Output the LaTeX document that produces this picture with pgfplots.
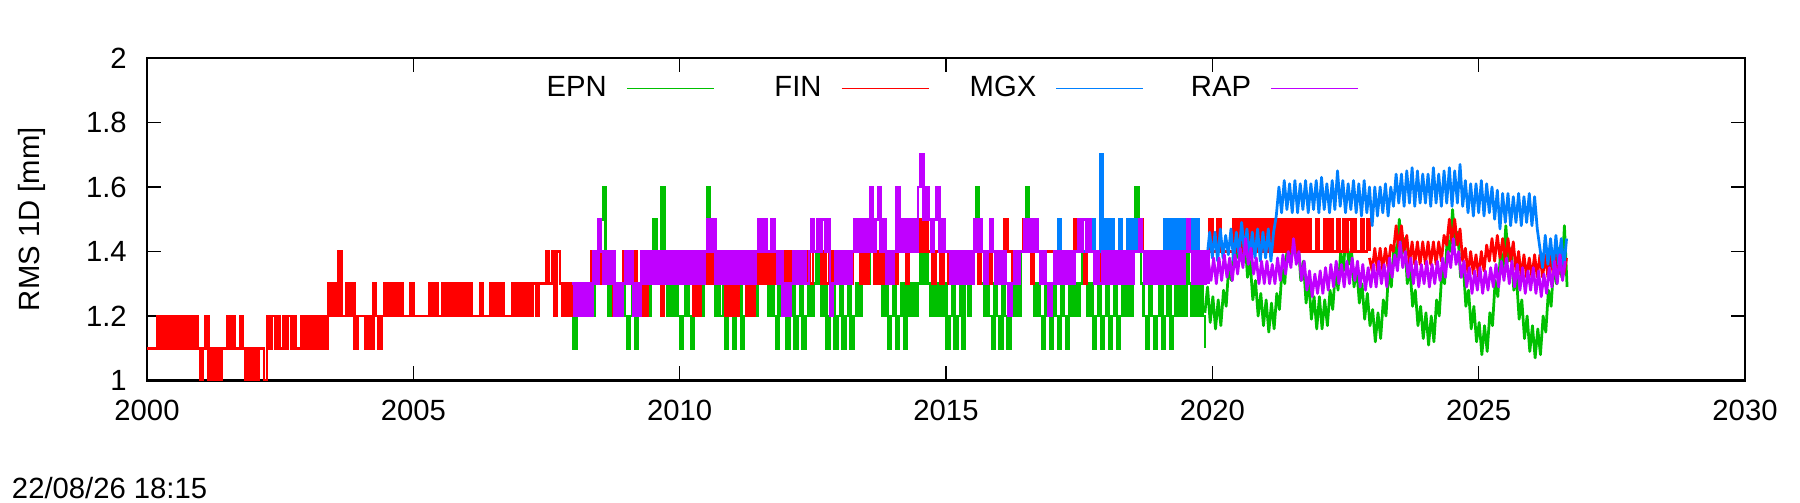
\documentclass[border=0pt]{standalone}
\usepackage{fontspec}
\setmainfont{Liberation Sans}
\usepackage{pgfplots}
\usepackage{pgfplotstable}
\pgfplotsset{compat=1.18}
\definecolor{cEPN}{RGB}{0,192,0}
\definecolor{cFIN}{RGB}{255,0,0}
\definecolor{cMGX}{RGB}{0,128,255}
\definecolor{cRAP}{RGB}{192,0,255}

% FIN, quantised part, 2000.00 + 0.05 i
\pgfplotstableread[row sep=\\]{
y\\
1.1\\1.1\\1.1\\1.1\\1.2\\1.1\\1.2\\1.1\\1.2\\1.1\\1.2\\1.1\\1.2\\1.1\\1.2\\1.1\\1.2\\1.1\\1.2\\1.1\\
1.0\\1.1\\1.2\\1.0\\1.1\\1.0\\1.1\\1.0\\1.1\\1.1\\1.2\\1.1\\1.2\\1.1\\1.1\\1.2\\1.1\\1.0\\1.1\\1.0\\
1.1\\1.0\\1.1\\1.1\\1.0\\1.2\\1.1\\1.2\\1.1\\1.2\\1.1\\1.2\\1.1\\1.2\\1.1\\1.2\\1.1\\1.1\\1.2\\1.1\\
1.2\\1.1\\1.2\\1.1\\1.2\\1.1\\1.2\\1.1\\1.3\\1.2\\1.3\\1.2\\1.4\\1.2\\1.2\\1.3\\1.2\\1.3\\1.1\\1.2\\
1.2\\1.2\\1.1\\1.2\\1.1\\1.3\\1.2\\1.1\\1.2\\1.3\\1.2\\1.3\\1.2\\1.3\\1.2\\1.3\\1.2\\1.2\\1.2\\1.3\\
1.2\\1.2\\1.2\\1.2\\1.2\\1.2\\1.3\\1.2\\1.3\\1.2\\1.2\\1.3\\1.2\\1.3\\1.2\\1.3\\1.2\\1.3\\1.2\\1.3\\
1.2\\1.3\\1.2\\1.2\\1.2\\1.3\\1.2\\1.2\\1.2\\1.3\\1.2\\1.3\\1.2\\1.3\\1.2\\1.2\\1.2\\1.3\\1.2\\1.3\\
1.2\\1.3\\1.2\\1.3\\1.2\\1.3\\1.2\\1.3\\1.3\\1.3\\1.4\\1.3\\1.4\\1.2\\1.4\\1.3\\1.2\\1.3\\1.2\\1.3\\
1.2\\1.3\\1.2\\1.3\\1.2\\1.3\\1.2\\1.4\\1.3\\1.4\\1.3\\1.4\\1.3\\1.4\\1.3\\1.2\\1.3\\1.2\\1.3\\1.4\\
1.3\\1.4\\1.3\\1.4\\1.3\\1.2\\1.3\\1.2\\1.4\\1.3\\1.4\\1.3\\1.4\\1.2\\1.3\\1.4\\1.3\\1.4\\1.3\\1.4\\
1.3\\1.4\\1.3\\1.4\\1.3\\1.2\\1.3\\1.2\\1.3\\1.4\\1.3\\1.4\\1.3\\1.4\\1.3\\1.4\\1.3\\1.2\\1.3\\1.2\\
1.3\\1.2\\1.3\\1.4\\1.3\\1.2\\1.3\\1.2\\1.4\\1.3\\1.4\\1.3\\1.4\\1.3\\1.4\\1.3\\1.4\\1.3\\1.4\\1.3\\
1.4\\1.3\\1.4\\1.3\\1.4\\1.3\\1.4\\1.3\\1.4\\1.3\\1.4\\1.4\\1.4\\1.3\\1.4\\1.3\\1.4\\1.3\\1.4\\1.4\\
1.3\\1.4\\1.3\\1.4\\1.3\\1.4\\1.4\\1.4\\1.3\\1.4\\1.3\\1.4\\1.4\\1.3\\1.4\\1.3\\1.4\\1.3\\1.4\\1.3\\
1.4\\1.3\\1.4\\1.4\\1.4\\1.3\\1.4\\1.4\\1.5\\1.4\\1.5\\1.4\\1.5\\1.4\\1.4\\1.3\\1.4\\1.4\\1.3\\1.4\\
1.4\\1.3\\1.4\\1.4\\1.3\\1.4\\1.4\\1.4\\1.3\\1.4\\1.4\\1.4\\1.3\\1.4\\1.4\\1.4\\1.3\\1.4\\1.4\\1.4\\
1.4\\1.4\\1.5\\1.4\\1.4\\1.3\\1.4\\1.4\\1.4\\1.5\\1.4\\1.4\\1.3\\1.4\\1.4\\1.4\\1.3\\1.4\\1.4\\1.4\\
1.4\\1.4\\1.3\\1.4\\1.4\\1.4\\1.4\\1.3\\1.5\\1.4\\1.4\\1.4\\1.3\\1.4\\1.4\\1.4\\1.4\\1.3\\1.4\\1.4\\
1.4\\1.4\\1.3\\1.4\\1.4\\1.4\\1.3\\1.4\\1.4\\1.4\\1.4\\1.4\\1.5\\1.5\\1.4\\1.4\\1.3\\1.4\\1.4\\1.4\\
1.4\\1.3\\1.4\\1.4\\1.4\\1.4\\1.3\\1.4\\1.4\\1.4\\1.4\\1.5\\1.4\\1.5\\1.4\\1.4\\1.4\\1.4\\1.4\\1.5\\
1.4\\1.4\\1.5\\1.4\\1.4\\1.4\\1.4\\1.4\\1.5\\1.4\\1.5\\1.4\\1.5\\1.4\\1.5\\1.4\\1.5\\1.4\\1.5\\1.4\\
1.5\\1.4\\1.5\\1.4\\1.5\\1.4\\1.5\\1.4\\1.5\\1.4\\1.5\\1.4\\1.5\\1.4\\1.5\\1.4\\1.5\\1.4\\1.4\\1.5\\
1.4\\1.4\\1.5\\1.4\\1.5\\1.4\\1.4\\1.5\\1.4\\1.5\\1.4\\1.5\\1.4\\1.5\\1.4\\1.4\\1.5\\1.4\\1.5\\1.4\\
}\finq
% FIN, continuous part, 2022.95 + 0.05 i
\pgfplotstableread[row sep=\\]{
y\\
1.38\\
1.34\\1.41\\1.34\\1.41\\1.34\\1.41\\1.35\\1.42\\1.40\\1.48\\1.41\\1.48\\1.40\\1.45\\1.36\\1.43\\1.36\\1.43\\1.36\\1.43\\
1.36\\1.43\\1.36\\1.43\\1.36\\1.43\\1.37\\1.45\\1.42\\1.50\\1.43\\1.50\\1.42\\1.47\\1.37\\1.41\\1.33\\1.40\\1.33\\1.39\\
1.32\\1.40\\1.34\\1.42\\1.37\\1.44\\1.37\\1.45\\1.38\\1.44\\1.37\\1.44\\1.37\\1.43\\1.34\\1.40\\1.32\\1.39\\1.32\\1.38\\
1.32\\1.39\\1.32\\1.39\\1.32\\1.39\\1.32\\1.39\\1.33\\1.40\\1.33\\1.39\\1.33\\1.38\\
}\finc
% MGX, quantised part, 2017.00 + 0.05 i
\pgfplotstableread[row sep=\\]{
y\\
1.4\\1.4\\1.5\\1.4\\1.4\\1.4\\1.4\\1.4\\1.4\\1.4\\1.4\\1.4\\1.4\\1.4\\1.4\\1.5\\1.4\\1.4\\1.7\\1.4\\
1.5\\1.4\\1.5\\1.3\\1.4\\1.5\\1.4\\1.4\\1.5\\1.4\\1.5\\1.4\\1.5\\1.4\\1.4\\1.4\\1.4\\1.4\\1.4\\1.4\\
1.4\\1.4\\1.5\\1.4\\1.5\\1.4\\1.5\\1.4\\1.5\\1.4\\1.5\\1.4\\1.5\\1.4\\1.5\\1.4\\1.4\\1.4\\1.4\\
}\mgxq
% MGX, continuous part, 2019.90 + 0.05 i
\pgfplotstableread[row sep=\\]{
y\\
1.38\\1.46\\
1.38\\1.46\\1.37\\1.47\\1.38\\1.45\\1.39\\1.47\\1.37\\1.46\\1.39\\1.49\\1.40\\1.47\\1.38\\1.46\\1.38\\1.47\\1.37\\1.46\\
1.38\\1.47\\1.37\\1.46\\1.51\\1.60\\1.52\\1.62\\1.53\\1.61\\1.52\\1.62\\1.52\\1.61\\1.53\\1.62\\1.52\\1.61\\1.53\\1.62\\
1.52\\1.63\\1.53\\1.61\\1.52\\1.62\\1.53\\1.65\\1.54\\1.62\\1.52\\1.61\\1.53\\1.62\\1.52\\1.61\\1.51\\1.62\\1.52\\1.60\\
1.48\\1.60\\1.51\\1.60\\1.52\\1.61\\1.51\\1.60\\1.54\\1.64\\1.55\\1.64\\1.54\\1.65\\1.55\\1.66\\1.54\\1.65\\1.55\\1.64\\
1.55\\1.64\\1.54\\1.66\\1.55\\1.64\\1.54\\1.65\\1.55\\1.66\\1.54\\1.65\\1.55\\1.67\\1.54\\1.62\\1.52\\1.61\\1.51\\1.61\\
1.52\\1.62\\1.51\\1.61\\1.52\\1.60\\1.50\\1.59\\1.47\\1.58\\1.49\\1.58\\1.48\\1.57\\1.49\\1.58\\1.48\\1.57\\1.49\\1.58\\
1.48\\1.57\\1.47\\1.41\\1.35\\1.45\\1.36\\1.44\\1.35\\1.45\\1.36\\1.44\\1.35\\1.44\\
}\mgxc
% EPN, quantised part, 2007.96 + 0.05 i
\pgfplotstableread[row sep=\\]{
y\\
1.2\\
1.1\\1.2\\1.3\\1.2\\1.3\\1.2\\1.3\\1.2\\1.3\\1.4\\1.5\\1.6\\1.4\\1.2\\1.3\\1.2\\1.3\\1.2\\1.3\\1.2\\
1.1\\1.2\\1.3\\1.1\\1.2\\1.3\\1.2\\1.3\\1.2\\1.3\\1.5\\1.4\\1.3\\1.6\\1.3\\1.2\\1.3\\1.2\\1.3\\1.2\\
1.1\\1.2\\1.3\\1.2\\1.1\\1.3\\1.2\\1.3\\1.2\\1.4\\1.6\\1.4\\1.3\\1.2\\1.3\\1.2\\1.3\\1.1\\1.2\\1.3\\
1.1\\1.2\\1.3\\1.1\\1.2\\1.3\\1.2\\1.3\\1.2\\1.3\\1.3\\1.4\\1.3\\1.2\\1.3\\1.2\\1.1\\1.3\\1.2\\1.3\\
1.1\\1.2\\1.3\\1.1\\1.2\\1.3\\1.1\\1.2\\1.3\\1.2\\1.3\\1.4\\1.3\\1.2\\1.3\\1.1\\1.2\\1.3\\1.1\\1.2\\
1.3\\1.1\\1.2\\1.3\\1.1\\1.2\\1.3\\1.2\\1.3\\1.4\\1.3\\1.5\\1.4\\1.3\\1.4\\1.3\\1.2\\1.3\\1.1\\1.2\\
1.3\\1.1\\1.2\\1.3\\1.1\\1.3\\1.2\\1.3\\1.2\\1.3\\1.4\\1.3\\1.4\\1.3\\1.2\\1.3\\1.2\\1.3\\1.2\\1.3\\
1.1\\1.2\\1.3\\1.1\\1.2\\1.3\\1.1\\1.3\\1.2\\1.3\\1.4\\1.6\\1.4\\1.3\\1.2\\1.3\\1.2\\1.1\\1.3\\1.2\\
1.1\\1.3\\1.2\\1.1\\1.3\\1.2\\1.3\\1.2\\1.4\\1.5\\1.6\\1.4\\1.3\\1.2\\1.3\\1.2\\1.1\\1.3\\1.2\\1.1\\
1.3\\1.2\\1.1\\1.3\\1.2\\1.1\\1.3\\1.2\\1.3\\1.2\\1.3\\1.4\\1.3\\1.2\\1.3\\1.1\\1.2\\1.3\\1.1\\1.2\\
1.3\\1.1\\1.2\\1.3\\1.1\\1.2\\1.3\\1.2\\1.3\\1.2\\1.4\\1.6\\1.4\\1.3\\1.2\\1.1\\1.3\\1.2\\1.1\\1.2\\
1.3\\1.1\\1.2\\1.3\\1.1\\1.2\\1.3\\1.2\\1.3\\1.2\\1.4\\1.3\\1.2\\1.3\\1.2\\1.3\\1.2\\1.1\\
}\epnq
% EPN, continuous part, 2019.86 + 0.05 i
\pgfplotstableread[row sep=\\]{
y\\
1.21\\1.29\\1.18\\
1.26\\1.16\\1.25\\1.17\\1.28\\1.23\\1.36\\1.31\\1.43\\1.38\\1.50\\1.39\\1.45\\1.32\\1.37\\1.25\\1.31\\1.20\\1.27\\1.17\\
1.25\\1.15\\1.24\\1.16\\1.27\\1.22\\1.35\\1.30\\1.43\\1.38\\1.50\\1.39\\1.44\\1.31\\1.37\\1.24\\1.31\\1.19\\1.26\\1.16\\
1.26\\1.16\\1.25\\1.17\\1.28\\1.22\\1.34\\1.28\\1.40\\1.34\\1.46\\1.36\\1.41\\1.29\\1.35\\1.24\\1.30\\1.19\\1.27\\1.17\\
1.22\\1.12\\1.21\\1.13\\1.25\\1.20\\1.34\\1.29\\1.42\\1.38\\1.50\\1.39\\1.44\\1.30\\1.35\\1.23\\1.28\\1.17\\1.23\\1.13\\
1.21\\1.11\\1.20\\1.12\\1.25\\1.20\\1.34\\1.30\\1.44\\1.40\\1.53\\1.42\\1.46\\1.32\\1.36\\1.23\\1.28\\1.16\\1.23\\1.12\\
1.18\\1.08\\1.17\\1.09\\1.21\\1.17\\1.31\\1.26\\1.40\\1.35\\1.48\\1.37\\1.41\\1.28\\1.32\\1.19\\1.25\\1.13\\1.20\\1.09\\
1.17\\1.07\\1.16\\1.08\\1.20\\1.15\\1.28\\1.23\\1.36\\1.30\\1.41\\1.32\\1.48\\1.29\\
}\epnc
% RAP, quantised part, 2007.975 + 0.05 i
\pgfplotstableread[row sep=\\]{
y\\
1.3\\
1.2\\1.3\\1.2\\1.3\\1.2\\1.3\\1.2\\1.4\\1.3\\1.5\\1.4\\1.3\\1.4\\1.3\\1.4\\1.2\\1.3\\1.2\\1.3\\1.4\\
1.3\\1.4\\1.2\\1.3\\1.2\\1.4\\1.3\\1.4\\1.3\\1.4\\1.3\\1.4\\1.3\\1.4\\1.3\\1.4\\1.3\\1.4\\1.3\\1.4\\
1.3\\1.4\\1.3\\1.4\\1.3\\1.4\\1.3\\1.4\\1.3\\1.4\\1.5\\1.4\\1.5\\1.3\\1.4\\1.3\\1.4\\1.3\\1.4\\1.3\\
1.4\\1.3\\1.4\\1.3\\1.4\\1.3\\1.4\\1.3\\1.4\\1.5\\1.4\\1.5\\1.4\\1.4\\1.5\\1.4\\1.3\\1.4\\1.2\\1.3\\
1.2\\1.3\\1.4\\1.3\\1.4\\1.3\\1.4\\1.3\\1.4\\1.5\\1.4\\1.5\\1.4\\1.5\\1.4\\1.5\\1.2\\1.3\\1.4\\1.3\\
1.4\\1.3\\1.4\\1.3\\1.4\\1.5\\1.4\\1.5\\1.4\\1.5\\1.4\\1.6\\1.4\\1.5\\1.6\\1.4\\1.5\\1.3\\1.4\\1.3\\
1.4\\1.6\\1.4\\1.5\\1.4\\1.5\\1.4\\1.5\\1.4\\1.6\\1.7\\1.5\\1.6\\1.5\\1.4\\1.5\\1.6\\1.4\\1.5\\1.4\\
1.4\\1.3\\1.4\\1.3\\1.4\\1.3\\1.4\\1.3\\1.4\\1.3\\1.5\\1.4\\1.5\\1.4\\1.3\\1.4\\1.5\\1.4\\1.3\\1.4\\
1.3\\1.4\\1.3\\1.2\\1.3\\1.4\\1.3\\1.4\\1.4\\1.5\\1.4\\1.5\\1.4\\1.5\\1.4\\1.3\\1.4\\1.3\\1.2\\1.3\\
1.4\\1.3\\1.4\\1.3\\1.4\\1.3\\1.4\\1.3\\1.4\\1.5\\1.4\\1.5\\1.4\\1.5\\1.4\\1.3\\1.4\\1.3\\1.4\\1.3\\
1.4\\1.3\\1.4\\1.3\\1.4\\1.3\\1.4\\1.3\\1.4\\1.3\\1.4\\1.4\\1.5\\1.4\\1.3\\1.4\\1.3\\1.4\\1.3\\1.4\\
1.3\\1.4\\1.3\\1.4\\1.3\\1.4\\1.3\\1.4\\1.3\\1.4\\1.5\\1.4\\1.3\\1.4\\1.3\\1.4\\1.3\\1.4\\1.3\\
}\rapq
% RAP, continuous part, 2019.925 + 0.05 i
\pgfplotstableread[row sep=\\]{
y\\
1.37\\1.31\\
1.38\\1.30\\1.38\\1.31\\1.39\\1.32\\1.38\\1.31\\1.39\\1.33\\1.41\\1.35\\1.44\\1.36\\1.41\\1.33\\1.38\\1.30\\1.37\\1.30\\
1.37\\1.30\\1.36\\1.30\\1.38\\1.31\\1.39\\1.33\\1.40\\1.35\\1.44\\1.36\\1.40\\1.31\\1.37\\1.28\\1.34\\1.26\\1.33\\1.27\\
1.34\\1.27\\1.35\\1.28\\1.36\\1.29\\1.37\\1.30\\1.36\\1.29\\1.37\\1.30\\1.38\\1.31\\1.37\\1.29\\1.36\\1.28\\1.35\\1.29\\
1.36\\1.29\\1.37\\1.30\\1.36\\1.29\\1.38\\1.32\\1.39\\1.34\\1.43\\1.35\\1.40\\1.32\\1.38\\1.30\\1.37\\1.29\\1.36\\1.30\\
1.37\\1.29\\1.36\\1.30\\1.37\\1.31\\1.38\\1.32\\1.40\\1.35\\1.44\\1.36\\1.40\\1.32\\1.37\\1.29\\1.35\\1.27\\1.34\\1.28\\
1.35\\1.27\\1.34\\1.28\\1.35\\1.29\\1.36\\1.29\\1.37\\1.31\\1.38\\1.30\\1.37\\1.29\\1.36\\1.28\\1.35\\1.27\\1.34\\1.28\\
1.35\\1.27\\1.34\\1.26\\1.33\\1.27\\1.35\\1.29\\1.37\\1.30\\1.39\\1.31\\1.37\\
}\rapc

\begin{document}
\fontsize{11.7}{14}\selectfont
\begin{tikzpicture}
\path[use as bounding box] (0,0) rectangle (720pt,200.8pt);
\begin{axis}[
  at={(58.8pt,48.6pt)}, anchor=south west,
  scale only axis, width=639.2pt, height=129pt,
  xmin=2000, xmax=2030, ymin=1, ymax=2,
  xtick={2000,2005,2010,2015,2020,2025,2030},
  xticklabels={2000,2005,2010,2015,2020,2025,2030},
  ytick={1,1.2,1.4,1.6,1.8,2},
  yticklabels={1,1.2,1.4,1.6,1.8,2},
  tick align=inside, tick pos=both,
  major tick length=5.8pt,
  every tick/.style={black, line width=0.45pt},
  axis line style={line width=0.9pt},
  xticklabel style={yshift=-3.9pt},
  yticklabel style={xshift=-4pt},
  ylabel={RMS 1D [mm]},
  every axis y label/.style={at={(axis description cs:-0.072,0.5)}, rotate=90, anchor=center},
  legend style={draw=none, fill=none, at={(axis description cs:0.519,0.905)}, anchor=center,
    legend columns=4, inner sep=0pt, outer sep=0pt, column sep=0pt, row sep=0pt,
    nodes={inner sep=0pt}},
  legend plot pos=right,
  legend image code/.code={\draw[#1, line width=0.6pt] (8pt,0pt) -- (42.8pt,0pt); \path[draw=none] (0pt,0pt) -- (61.9pt,0pt);},
]
\addplot[cEPN, const plot, line width=1.05pt] table[x expr={2007.96+0.05*\coordindex}, y=y] {\epnq};
\addlegendentry{\makebox[24pt][r]{EPN}}
\addplot[cEPN, line width=1.1pt, line join=round, forget plot] table[x expr={2019.86+0.05*\coordindex}, y=y] {\epnc};
\addplot[cFIN, const plot, line width=1.05pt] table[x expr={2000+0.05*\coordindex}, y=y] {\finq};
\addlegendentry{\makebox[24pt][r]{FIN}}
\addplot[cFIN, line width=1.1pt, line join=round, forget plot] table[x expr={2022.95+0.05*\coordindex}, y=y] {\finc};
\addplot[cMGX, const plot, line width=1.05pt] table[x expr={2017+0.05*\coordindex}, y=y] {\mgxq};
\addlegendentry{\makebox[24pt][r]{MGX}}
\addplot[cMGX, line width=1.1pt, line join=round, forget plot] table[x expr={2019.9+0.05*\coordindex}, y=y] {\mgxc};
\addplot[cRAP, const plot, line width=1.05pt] table[x expr={2007.975+0.05*\coordindex}, y=y] {\rapq};
\addlegendentry{\makebox[24pt][r]{RAP}}
\addplot[cRAP, line width=1.1pt, line join=round, forget plot] table[x expr={2019.925+0.05*\coordindex}, y=y] {\rapc};
\end{axis}
\node[anchor=base west, inner sep=0pt] at (4.6pt,1.4pt) {22/08/26 18:15};
\end{tikzpicture}
\end{document}
